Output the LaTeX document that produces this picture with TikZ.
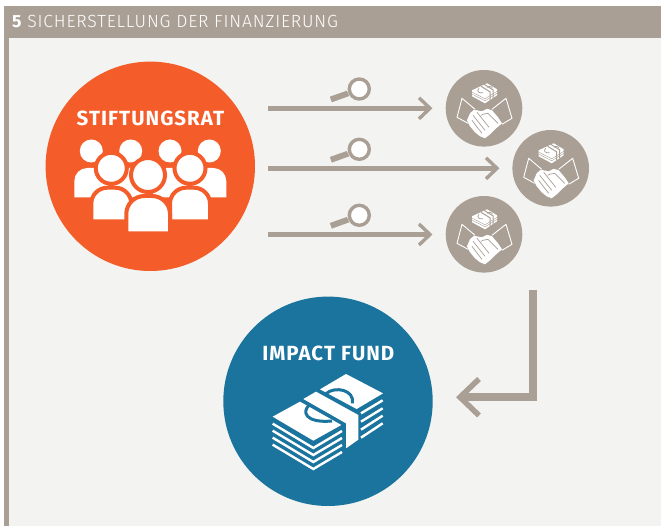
\documentclass[tikz,border=0pt]{standalone}
\usepackage{fontspec}
\setmainfont{Fira Sans}
\newfontfamily\lightf{Fira Sans Light}
\definecolor{taupe}{HTML}{A99F95}
\definecolor{paper}{HTML}{F3F3F1}
\definecolor{orangec}{HTML}{F45D2A}
\definecolor{bluec}{HTML}{1B749E}
% [style]{left}{right}{top}{bottom}{corner radius}
\newcommand\personbody[6][]{\path[#1] (#2,#5) -- (#2,#4+#6) .. controls (#2,#4+.45*#6) and (#2+.45*#6,#4) .. (#2+#6,#4) -- (#3-#6,#4) .. controls (#3-.45*#6,#4) and (#3,#4+.45*#6) .. (#3,#4+#6) -- (#3,#5) -- cycle;}
\tikzset{x=1pt,y=-1pt,
  flowline/.style={draw=taupe,line width=5.2pt},
  arrowhead/.style={draw=taupe,line width=3.4pt,miter limit=10},
  disc/.style={circle,inner sep=0pt,minimum size=#1,draw=none},
  biglabel/.style={text=white,inner sep=0pt,anchor=base,font=\fontsize{20.5pt}{22pt}\selectfont\bfseries\addfontfeature{LetterSpace=5}},
  backp/.style={fill=white},
  frontp/.style={fill=white,draw=orangec,line width=4pt},
  lens/.pic={
    \fill[taupe] (-29.5,7.7) -- (-27.5,13.3) -- (-10,7) -- (-12.5,1.7) -- cycle;
    \draw[taupe,line width=3.4pt,fill=white] (0,0) circle (10);
  },
  handshake/.pic={
    \draw[white,line width=.9pt,line join=round] (-9,1) -- (-22,-10) -- (-27,9) -- (-16,15);
    \draw[white,line width=.9pt,line join=round] (8,1) -- (22,-10) -- (28,10) -- (18,16);
    \fill[white] (-17,12) -- (-14,5) -- (-10,1.5) -- (-2,3) -- (3,.5) -- (8,2) -- (14,9) -- (18,15) -- (11,21) -- (6,26) -- (1,30) -- (-4,28) -- (-9,24) -- (-14,18) -- cycle;
    \draw[taupe,line width=.7pt] (-11,7) -- (-3,17) (-12,12) -- (-6,20) (-7,4) -- (1,14) (-3,7) -- (-1,6) -- (4,5) -- (14,15) (1,14) -- (5,19) (-3,17) -- (1,22) (-6,20) -- (-2,25);
    \fill[white] (3,-25) -- (13,-19) -- (13,-13) -- (1,-5) -- (-12,-12) -- (-12,-18) -- cycle;
    \draw[taupe,line width=.4pt] (-12,-16.2) -- (1,-9.5) -- (13,-17) (-12,-14.2) -- (1,-7.5) -- (13,-15);
    \draw[taupe,line width=1pt] (-3,-22) -- (6,-16.5) -- (6,-8) (0,-24) -- (9,-18.5) -- (9,-10);
    \draw[taupe,line width=.7pt] (-5,-20) .. controls (-8,-17) and (-5,-15) .. (-1,-15.5);
    \draw[taupe,line width=.7pt] (3,-21) .. controls (6,-23) and (9,-21) .. (8,-20);
  }
}
\begin{document}
\begin{tikzpicture}
\useasboundingbox (0,0) rectangle (661,526);
\fill[white] (0,0) rectangle (661,526);
% frame
\fill[paper] (4,6) rectangle (661,526);
\fill[taupe] (4,6) rectangle (661,37.7);
\fill[taupe] (4,37.7) rectangle (9,526);
\node[anchor=base west,inner sep=0pt,text=white,font=\fontsize{17.6pt}{19pt}\selectfont] (title) at (12,28) {\textbf{5}\hspace{1pt} {\lightf\addfontfeature{LetterSpace=4.7}SICHERSTELLUNG DER FINANZIERUNG}};
% main discs
\node[disc=209.4pt,fill=orangec] (rat) at (150.3,166.3) {};
\node[disc=209.4pt,fill=bluec] (fund) at (328,401.3) {};
% small discs
\node[disc=76.6pt,fill=taupe] (h1) at (484,108.3) {};
\node[disc=76.6pt,fill=taupe] (h2) at (550.7,168.3) {};
\node[disc=76.6pt,fill=taupe] (h3) at (484,234.3) {};
% labels
\node[biglabel] (ratl) at (150.4,125.8) {STIFTUNGSRAT};
\node[biglabel] (fundl) at (328.3,360.4) {IMPACT FUND};
% people: back row
\foreach \x in {91.3,130.7,170,209.3}{
  \fill[white] (\x,151) circle (11.5);
  \personbody[backp]{\x-17}{\x+17}{168}{197.3}{13}
}
% middle row
\foreach \x in {111.3,190}{
  \personbody[frontp]{\x-20}{\x+20}{187.7}{221.3}{16}
  \fill[white,draw=orangec,line width=4pt] (\x,168.3) circle (15.5);
}
% front person
\personbody[frontp]{126.3}{170}{196}{233.3}{18}
\fill[white,draw=orangec,line width=4pt] (148,175) circle (17);
% flow arrows
\coordinate (a1s) at (268.3,108.3);
\coordinate (a1e) at (430,108.3);
\coordinate (a2s) at (268.3,168.3);
\coordinate (a2e) at (497,168.3);
\coordinate (a3s) at (268.3,234.5);
\coordinate (a3e) at (430,234.5);
\foreach \s/\e in {a1s/a1e,a2s/a2e,a3s/a3e}{
  \draw[flowline] (\s) -- (\e);
  \draw[arrowhead] ([shift={(-11,-10.5)}]\e) -- (\e) -- ([shift={(-11,10.5)}]\e);
}
% lenses
\pic at (359.3,89) {lens};
\pic at (359.3,149.3) {lens};
\pic at (359.3,215.3) {lens};
% handshakes
\pic at (484,108.3) {handshake};
\pic at (550.7,168.3) {handshake};
\pic at (484,234.3) {handshake};
% big return arrow
\coordinate (b1) at (532.8,290);
\coordinate (b2) at (532.8,397.2);
\coordinate (b3) at (464,397.2);
\draw[draw=taupe,line width=7.6pt,miter limit=10] (b1) -- (b2) -- (b3);
\draw[draw=taupe,line width=5.5pt,miter limit=10] (479,379) -- (460,397.2) -- (479,415.5);
% banknotes (coordinates in 1/3 px)
\begin{scope}[xshift=220pt,yshift=-295pt,x=.33333pt,y=-.33333pt]
 \foreach \d in {0,21,42,63}{
   \draw[white,line width=2.4pt] (158,{386+\d}) -- (280,{459+\d}) -- (366,{408+\d});
 }
 \foreach \a/\b in {355/316,380/340,404/362,428/385}{
   \draw[white,line width=2.4pt] (423,\a) -- (488,\b);
 }
 \fill[white] (158,365) -- (240,320) -- (364,390) -- (280,437) -- cycle;
 \fill[white] (300,283) -- (378,237) -- (489,295) -- (410,342) -- cycle;
 \fill[white] (250,312) -- (288,290) -- (415,360) -- (415,434) -- (378,460) -- (378,385) -- cycle;
 \draw[bluec,line width=3pt] (268,330) .. controls (245,350) and (255,385) .. (336,378);
 \draw[bluec,line width=3pt] (318,296) .. controls (345,272) and (405,285) .. (397,325);
\end{scope}
\end{tikzpicture}
\end{document}
